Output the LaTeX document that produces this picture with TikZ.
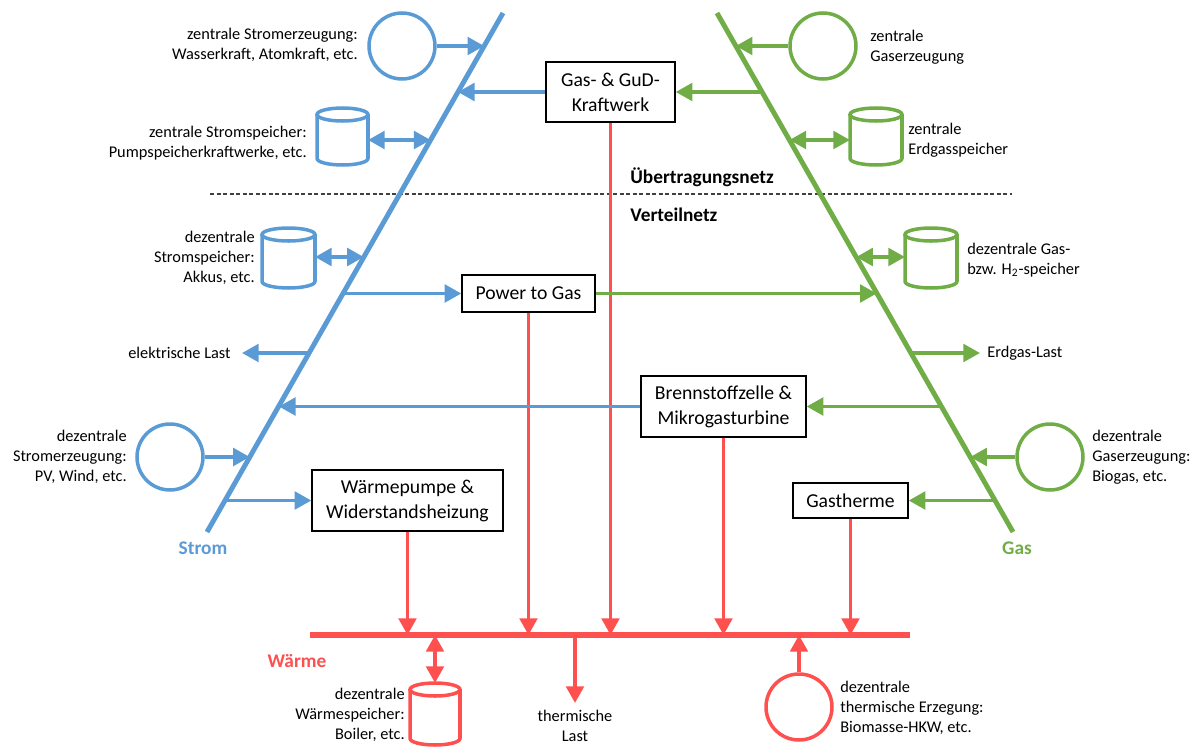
\documentclass[tikz,border=0pt]{standalone}
\usepackage{fontspec}
\setmainfont{Carlito}
\usetikzlibrary{arrows.meta,shapes.geometric}
\definecolor{cB}{HTML}{5B9BD5}
\definecolor{cG}{HTML}{70AD47}
\definecolor{cR}{HTML}{FF5050}
% #1 node name, #2 colour, #3 half width (cm)
\newcommand\drawcyl[3]{%
  \draw[#2, line width=2pt, line join=round]
    ([yshift=-0.13cm]#1.north west) -- ([yshift=0.13cm]#1.south west)
    arc[start angle=180, end angle=360, x radius=#3, y radius=0.13cm]
    -- ([yshift=-0.13cm]#1.north east);
  \draw[#2, line width=2pt] ([yshift=-0.13cm]#1.north) ellipse[x radius=#3, y radius=0.13cm];
}
\begin{document}
\begin{tikzpicture}[x=0.02cm,y=-0.02cm,
 trunk/.style={line width=2.8pt},
 con/.style={line width=2.1pt},
 tip/.style={-{Triangle[length=9.5pt,width=10pt]}},
 dtip/.style={{Triangle[length=9.5pt,width=10pt]}-{Triangle[length=9.5pt,width=10pt]}},
 box/.style={draw=black, line width=0.8pt, fill=white, align=center, inner sep=0pt, font=\fontsize{11.2}{14.2}\selectfont},
 circ/.style={circle, line width=2pt, inner sep=0pt, minimum size=1.32cm},
 cylbox/.style={inner sep=0pt, outer sep=0pt},
 lbl/.style={inner sep=0pt, font=\fontsize{9.3}{11.3}\selectfont},
 head/.style={inner sep=0pt, font=\fontsize{11}{13}\selectfont\bfseries},
]
\useasboundingbox (0,0) rectangle (1198,747);

% trunk end points and junction coordinates
\coordinate (bT) at (503,13); \coordinate (bB) at (207,532);
\coordinate (gT) at (717,13); \coordinate (gB) at (1013,532);
\coordinate (b46) at (484.2,46); \coordinate (g46) at (735.8,46);
\coordinate (b92) at (457.9,92); \coordinate (g92) at (762.1,92);
\coordinate (b140) at (430.6,140); \coordinate (g140) at (789.4,140);
\coordinate (b257) at (363.8,257); \coordinate (g257) at (856.2,257);
\coordinate (b293) at (343.3,293.5); \coordinate (g293) at (876.7,293.5);
\coordinate (b353) at (309.1,353); \coordinate (g353) at (910.9,353);
\coordinate (b406) at (278.9,406.5); \coordinate (g406) at (941.1,406.5);
\coordinate (b457) at (249.8,457); \coordinate (g457) at (970.2,457);
\coordinate (b500) at (225.3,500.5); \coordinate (g500) at (994.7,500.5);
\coordinate (eLend) at (242,353); \coordinate (gLend) at (980,353);
\coordinate (rL) at (310,635); \coordinate (rR) at (910,635);
\coordinate (dL) at (210,194); \coordinate (dR) at (1012,194);

% dashed separator
\draw[line width=0.6pt, dash pattern=on 2.3pt off 1.4pt, black!75] (dL) -- (dR);
\node[head, anchor=west] (uen) at (630,177) {Übertragungsnetz};
\node[head, anchor=west] (vn) at (630,215) {Verteilnetz};

% boxes
\node[box, minimum width=2.58cm, minimum height=1.2cm] (GuD) at (610.5,92) {Gas- \& GuD-\\Kraftwerk};
\node[box, minimum width=2.66cm, minimum height=0.74cm] (PtG) at (528.5,293.5) {Power to Gas};
\node[box, minimum width=3.3cm, minimum height=1.22cm] (BZ) at (723.5,406.5) {Brennstoffzelle \&\\Mikrogasturbine};
\node[box, minimum width=3.82cm, minimum height=1.22cm] (WP) at (407.5,500.5) {Wärmepumpe \&\\Widerstandsheizung};
\node[box, minimum width=2.3cm, minimum height=0.7cm] (GT) at (850.5,500.5) {Gastherme};

% red heat connections
\draw[cR, line width=2pt, tip] (WP.south) -- (WP.south |- rL);
\draw[cR, line width=2pt, tip] (PtG.south) -- (PtG.south |- rL);
\draw[cR, line width=2pt, tip] (GuD.south) -- (GuD.south |- rL);
\draw[cR, line width=2pt, tip] (BZ.south) -- (BZ.south |- rL);
\draw[cR, line width=2pt, tip] (GT.south) -- (GT.south |- rL);
\draw[cR, line width=2.9pt] (rL) -- (rR);

% trunks
\draw[cB, trunk] (bT) -- (bB);
\draw[cG, trunk] (gT) -- (gB);

% Strom side
\node[circ, draw=cB] (CS1) at (402,46) {};
\node[cylbox, minimum width=1.02cm, minimum height=1.14cm] (SP1) at (342.5,136.5) {};
\drawcyl{SP1}{cB}{0.51cm}
\node[cylbox, minimum width=1.06cm, minimum height=1.2cm] (SP2) at (288.5,258) {};
\drawcyl{SP2}{cB}{0.53cm}
\node[circ, draw=cB] (CS2) at (170,457) {};
\draw[cB, con, tip] (CS1) -- (b46);
\draw[cB, con, tip] (GuD) -- (b92);
\draw[cB, con, dtip] (SP1.east |- b140) -- (b140);
\draw[cB, con, dtip] (SP2.east |- b257) -- (b257);
\draw[cB, con, tip] (b293) -- (PtG);
\draw[cB, con, tip] (b353) -- (eLend);
\draw[cB, con, tip] (BZ) -- (b406);
\draw[cB, con, tip] (CS2) -- (b457);
\draw[cB, con, tip] (b500) -- (WP);

\node[lbl, anchor=east, align=right] (L1) at (358,45) {zentrale Stromerzeugung:\\Wasserkraft, Atomkraft, etc.};
\node[lbl, anchor=east, align=right] (L2) at (307,143) {zentrale Stromspeicher:\\Pumpspeicherkraftwerke, etc.};
\node[lbl, anchor=east, align=right] (L3) at (255,258) {dezentrale\\Stromspeicher:\\Akkus, etc.};
\node[lbl, anchor=east] (L4) at (231,353) {elektrische Last};
\node[lbl, anchor=east, align=right] (L5) at (127,457) {dezentrale\\Stromerzeugung:\\PV, Wind, etc.};
\node[head, text=cB] (strom) at (203,548) {Strom};

% Gas side
\node[circ, draw=cG] (CG1) at (823,46) {};
\node[cylbox, minimum width=1.04cm, minimum height=1.14cm] (GP1) at (876,136.5) {};
\drawcyl{GP1}{cG}{0.52cm}
\node[cylbox, minimum width=1.04cm, minimum height=1.2cm] (GP2) at (931,258) {};
\drawcyl{GP2}{cG}{0.52cm}
\node[circ, draw=cG] (CG2) at (1050,457) {};
\draw[cG, con, tip] (CG1) -- (g46);
\draw[cG, con, tip] (g92) -- (GuD);
\draw[cG, con, dtip] (g140) -- (GP1.west |- g140);
\draw[cG, con, dtip] (g257) -- (GP2.west |- g257);
\draw[cG, con, tip] (PtG) -- (g293);
\draw[cG, con, tip] (g353) -- (gLend);
\draw[cG, con, tip] (g406) -- (BZ);
\draw[cG, con, tip] (CG2) -- (g457);
\draw[cG, con, tip] (g500) -- (GT);

\node[lbl, anchor=west, align=left] (G1) at (870,47) {zentrale\\Gaserzeugung};
\node[lbl, anchor=west, align=left] (G2) at (908,140) {zentrale\\Erdgasspeicher};
\node[lbl, anchor=west, align=left] (G3) at (967,260) {dezentrale Gas-\\bzw. H\textsubscript{2}-speicher};
\node[lbl, anchor=west] (G4) at (987,353) {Erdgas-Last};
\node[lbl, anchor=west, align=left] (G5) at (1092,457) {dezentrale\\Gaserzeugung:\\Biogas, etc.};
\node[head, text=cG] (gas) at (1017,548) {Gas};

% Wärme side
\node[cylbox, minimum width=1.0cm, minimum height=1.24cm] (RP) at (435,714) {};
\drawcyl{RP}{cR}{0.5cm}
\node[circ, draw=cR] (CR) at (799,707) {};
\coordinate (tLend) at (575,703);
\draw[cR, line width=2pt, dtip] (RP.north |- rL) -- (RP.north);
\draw[cR, line width=2pt, tip] (tLend |- rL) -- (tLend);
\draw[cR, line width=2pt, tip] (CR) -- (CR |- rL);

\node[lbl, anchor=east, align=right] (R1) at (405,715) {dezentrale\\Wärmespeicher:\\Boiler, etc.};
\node[lbl, align=center] (R2) at (575,726) {thermische\\Last};
\node[lbl, anchor=west, align=left] (R3) at (840,708) {dezentrale\\thermische Erzegung:\\Biomasse-HKW, etc.};
\node[head, text=cR] (waerme) at (297,661) {Wärme};
\end{tikzpicture}
\end{document}
